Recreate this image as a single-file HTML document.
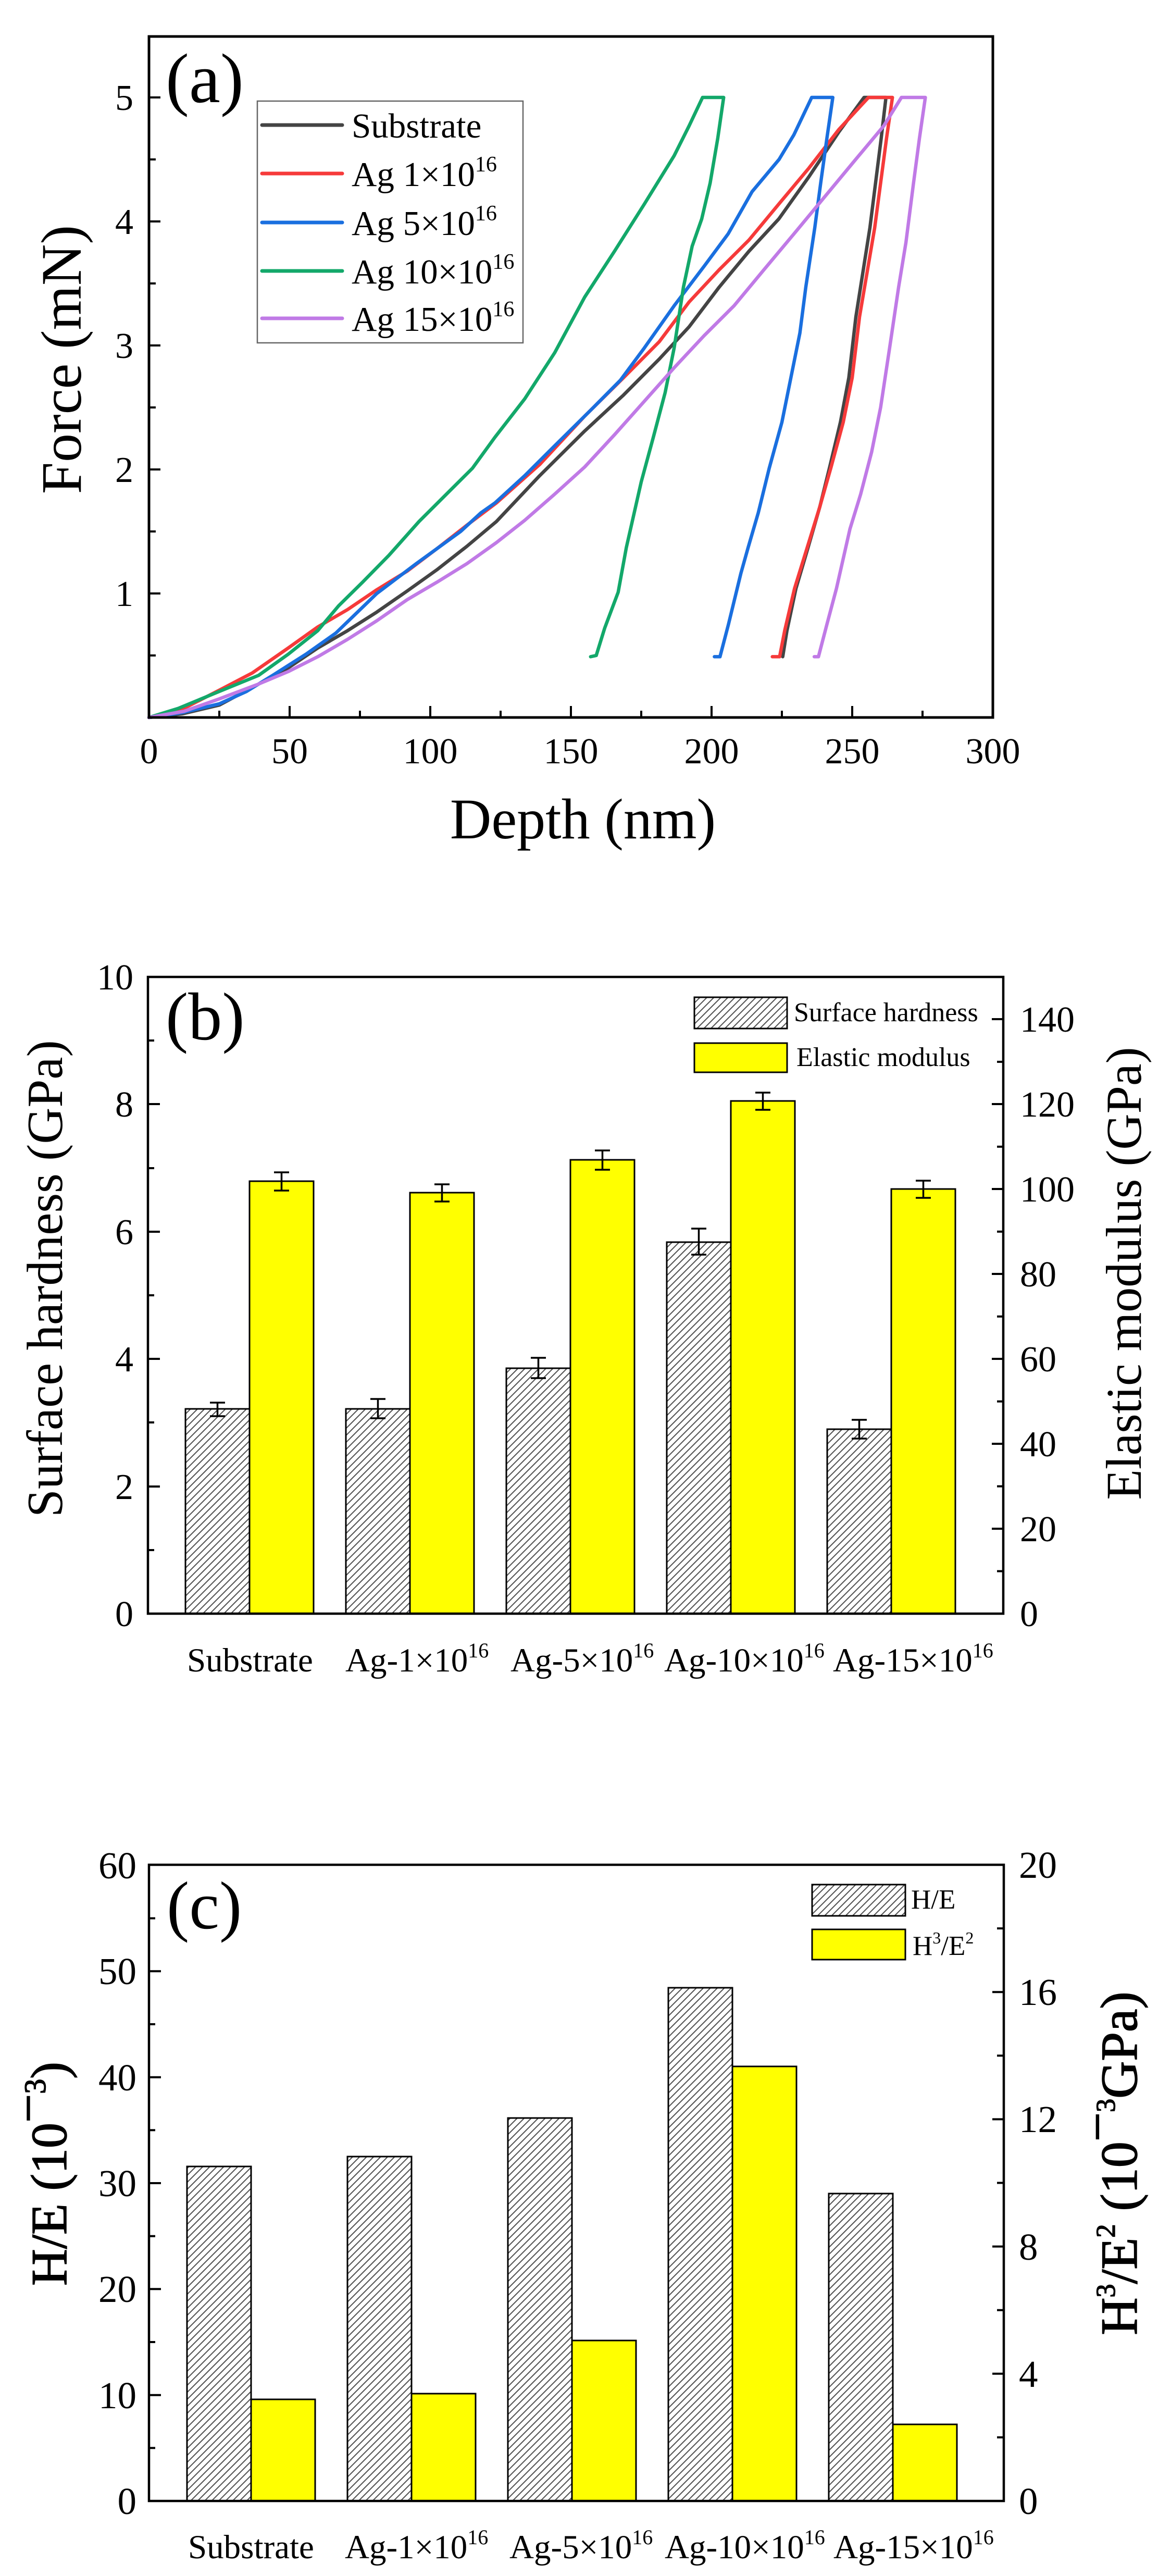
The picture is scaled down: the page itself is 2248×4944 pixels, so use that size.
<!DOCTYPE html>
<html>
<head>
<meta charset="utf-8">
<style>
  html,body{margin:0;padding:0;background:#fff;}
  svg{display:block;}
  text{font-family:"Liberation Serif","Times New Roman",serif;fill:#000;}
</style>
</head>
<body>
<svg xmlns="http://www.w3.org/2000/svg" width="2248" height="4944" viewBox="0 0 2248 4944">
<defs>
  <pattern id="hatch" patternUnits="userSpaceOnUse" width="9.5" height="10" patternTransform="rotate(45)">
    <rect width="10" height="10" fill="#fff"/>
    <line x1="4.75" y1="-1" x2="4.75" y2="11" stroke="#444" stroke-width="1.9"/>
  </pattern>
</defs>
<rect width="2248" height="4944" fill="#fff"/>

<!-- ================= PANEL A ================= -->
<g id="panelA">
  <g transform="translate(286,1377) scale(5.4,-238)" fill="none" stroke-width="6.5" stroke-linejoin="round" stroke-linecap="round">
    <polyline vector-effect="non-scaling-stroke" stroke="#444444" points="0,0 12,0.03 25,0.1 39,0.27 49.5,0.4 60,0.56 70.6,0.7 81,0.85 91.8,1.02 102.3,1.19 113,1.38 123.5,1.58 138.9,1.95 154.9,2.31 168.7,2.6 181.4,2.89 192,3.15 202.7,3.47 213.3,3.76 223.9,4.02 234.6,4.36 245.2,4.72 254.2,5 262,5 260.3,4.67 258.3,4.31 256.3,3.95 253.8,3.59 251.3,3.23 248.8,2.74 245.8,2.38 242,2.02 238.5,1.7 234.3,1.37 230,1.04 226.8,0.7 225.3,0.49"/>
    <polyline vector-effect="non-scaling-stroke" stroke="#f63a3a" points="0,0 10.4,0.05 25,0.22 36.8,0.36 49.5,0.56 60,0.73 70.6,0.87 81,1.03 91.8,1.18 102.3,1.36 113,1.55 123.5,1.73 138.9,2.04 154.9,2.43 168.7,2.74 181.4,3.03 192,3.35 202.7,3.61 213.3,3.85 223.9,4.14 234.6,4.43 245.2,4.74 255.8,5 264.3,5 262.2,4.67 260.1,4.31 258,3.95 255.3,3.59 252.6,3.23 250,2.74 246.8,2.38 242.5,2.02 238.5,1.7 234,1.37 229.5,1.04 226,0.7 224.2,0.49 221.6,0.49"/>
    <polyline vector-effect="non-scaling-stroke" stroke="#1a6fdf" points="0,0 12,0.04 25,0.11 34.7,0.21 44,0.34 55.8,0.51 66.4,0.68 81,1 95,1.24 110.8,1.5 118,1.65 123,1.73 133.6,1.95 144.2,2.19 158,2.5 167.6,2.72 176.1,2.98 186.7,3.32 197.4,3.64 205.9,3.9 214.4,4.24 224,4.5 229.3,4.7 235.6,5 243.1,5 241,4.67 238.8,4.31 236.7,3.95 233.5,3.47 231.4,3.1 228.2,2.74 225,2.38 220.5,2.01 216.6,1.65 213,1.37 210.4,1.16 206,0.75 203,0.49 201,0.49"/>
    <polyline vector-effect="non-scaling-stroke" stroke="#13a86a" points="0,0 10.4,0.073 25,0.21 39,0.34 49.5,0.51 60,0.7 67.4,0.9 75.9,1.09 85.4,1.31 96,1.58 106.6,1.82 115,2.01 123,2.26 133.6,2.57 144.2,2.94 154.9,3.39 165.5,3.76 176.1,4.14 186.7,4.53 192,4.77 196.8,5 204.3,5 202.2,4.67 199.5,4.31 196.5,4.02 193.1,3.8 190,3.47 186.7,2.98 183.5,2.62 179.3,2.26 175,1.9 169.7,1.37 166.8,1.01 162,0.72 159,0.5 157,0.49"/>
    <polyline vector-effect="non-scaling-stroke" stroke="#c07ae6" points="0,0 12.5,0.05 25,0.15 39,0.27 49.5,0.37 60,0.49 70.6,0.63 81,0.78 91.8,0.95 102.3,1.09 113,1.24 123.5,1.41 133.6,1.59 144.2,1.8 154.9,2.02 165.5,2.28 176.1,2.55 186.7,2.82 197.4,3.08 208,3.32 218.6,3.61 229.3,3.9 239.9,4.19 250.5,4.48 261.2,4.77 267.5,5 276,5 273.9,4.67 271.8,4.31 269.1,3.83 266.5,3.47 263.3,2.98 260.1,2.5 256.9,2.14 253,1.8 249.2,1.52 244.4,1.04 241,0.75 238,0.49 236.5,0.49"/>
  </g>
  <rect x="286" y="70" width="1620" height="1307" fill="none" stroke="#000" stroke-width="5"/>
  <g stroke="#000" stroke-width="4">
    <line x1="421" y1="1377" x2="421" y2="1364"/>
    <line x1="556" y1="1377" x2="556" y2="1355"/>
    <line x1="691" y1="1377" x2="691" y2="1364"/>
    <line x1="826" y1="1377" x2="826" y2="1355"/>
    <line x1="961" y1="1377" x2="961" y2="1364"/>
    <line x1="1096" y1="1377" x2="1096" y2="1355"/>
    <line x1="1231" y1="1377" x2="1231" y2="1364"/>
    <line x1="1366" y1="1377" x2="1366" y2="1355"/>
    <line x1="1501" y1="1377" x2="1501" y2="1364"/>
    <line x1="1636" y1="1377" x2="1636" y2="1355"/>
    <line x1="1771" y1="1377" x2="1771" y2="1364"/>
    <line x1="286" y1="1258" x2="299" y2="1258"/>
    <line x1="286" y1="1139" x2="308" y2="1139"/>
    <line x1="286" y1="1020" x2="299" y2="1020"/>
    <line x1="286" y1="901" x2="308" y2="901"/>
    <line x1="286" y1="782" x2="299" y2="782"/>
    <line x1="286" y1="663" x2="308" y2="663"/>
    <line x1="286" y1="544" x2="299" y2="544"/>
    <line x1="286" y1="425" x2="308" y2="425"/>
    <line x1="286" y1="306" x2="299" y2="306"/>
    <line x1="286" y1="187" x2="308" y2="187"/>
  </g>
  <g font-size="70" text-anchor="middle">
    <text x="286" y="1465">0</text>
    <text x="556" y="1465">50</text>
    <text x="826" y="1465">100</text>
    <text x="1096" y="1465">150</text>
    <text x="1366" y="1465">200</text>
    <text x="1636" y="1465">250</text>
    <text x="1906" y="1465">300</text>
  </g>
  <g font-size="70" text-anchor="end">
    <text x="256" y="1163">1</text>
    <text x="256" y="925">2</text>
    <text x="256" y="687">3</text>
    <text x="256" y="449">4</text>
    <text x="256" y="211">5</text>
  </g>
  <text x="1119" y="1609" font-size="110" text-anchor="middle">Depth (nm)</text>
  <text transform="translate(155,690) rotate(-90)" font-size="110" text-anchor="middle">Force (mN)</text>
  <text x="318" y="196" font-size="135">(a)</text>
  <rect x="494" y="194" width="510" height="464" fill="#fff" stroke="#666" stroke-width="2.5"/>
  <g stroke-width="7" stroke-linecap="round">
    <line x1="503" y1="240" x2="657" y2="240" stroke="#444444"/>
    <line x1="503" y1="333" x2="657" y2="333" stroke="#f63a3a"/>
    <line x1="503" y1="427" x2="657" y2="427" stroke="#1a6fdf"/>
    <line x1="503" y1="520" x2="657" y2="520" stroke="#13a86a"/>
    <line x1="503" y1="611" x2="657" y2="611" stroke="#c07ae6"/>
  </g>
  <g font-size="67">
    <text x="675" y="264">Substrate</text>
    <text x="675" y="357">Ag 1×10<tspan dy="-28" font-size="42">16</tspan></text>
    <text x="675" y="451">Ag 5×10<tspan dy="-28" font-size="42">16</tspan></text>
    <text x="675" y="544">Ag 10×10<tspan dy="-28" font-size="42">16</tspan></text>
    <text x="675" y="635">Ag 15×10<tspan dy="-28" font-size="42">16</tspan></text>
  </g>
</g>

<!-- ================= PANEL B ================= -->
<g id="panelB">
  <g stroke="#000" stroke-width="3">
    <rect x="356" y="2704" width="123" height="393" fill="url(#hatch)"/>
    <rect x="479" y="2267" width="123" height="830" fill="#ffff00"/>
    <rect x="664" y="2704" width="123" height="393" fill="url(#hatch)"/>
    <rect x="787" y="2289" width="123" height="808" fill="#ffff00"/>
    <rect x="972" y="2626" width="123" height="471" fill="url(#hatch)"/>
    <rect x="1095" y="2226" width="123" height="871" fill="#ffff00"/>
    <rect x="1280" y="2384" width="123" height="713" fill="url(#hatch)"/>
    <rect x="1403" y="2113" width="123" height="984" fill="#ffff00"/>
    <rect x="1588" y="2743" width="123" height="354" fill="url(#hatch)"/>
    <rect x="1711" y="2282" width="123" height="815" fill="#ffff00"/>
  </g>
  <g stroke="#000" stroke-width="3.5" fill="none">
    <path d="M417.5 2692V2718M403 2692H432M403 2718H432"/>
    <path d="M540.5 2250V2285M526 2250H555M526 2285H555"/>
    <path d="M725.5 2685V2722M711 2685H740M711 2722H740"/>
    <path d="M848.5 2273V2306M834 2273H863M834 2306H863"/>
    <path d="M1033.5 2606V2645M1019 2606H1048M1019 2645H1048"/>
    <path d="M1156.5 2208V2245M1142 2208H1171M1142 2245H1171"/>
    <path d="M1341.5 2358V2408M1327 2358H1356M1327 2408H1356"/>
    <path d="M1464.5 2097V2130M1450 2097H1479M1450 2130H1479"/>
    <path d="M1649.5 2725V2761M1635 2725H1664M1635 2761H1664"/>
    <path d="M1772.5 2266V2299M1758 2266H1787M1758 2299H1787"/>
  </g>
  <rect x="284" y="1875" width="1642" height="1222" fill="none" stroke="#000" stroke-width="4.5"/>
  <g stroke="#000" stroke-width="4">
    <line x1="284" y1="2975" x2="296" y2="2975"/>
    <line x1="284" y1="2853" x2="307" y2="2853"/>
    <line x1="284" y1="2730" x2="296" y2="2730"/>
    <line x1="284" y1="2608" x2="307" y2="2608"/>
    <line x1="284" y1="2486" x2="296" y2="2486"/>
    <line x1="284" y1="2364" x2="307" y2="2364"/>
    <line x1="284" y1="2242" x2="296" y2="2242"/>
    <line x1="284" y1="2119" x2="307" y2="2119"/>
    <line x1="284" y1="1997" x2="296" y2="1997"/>
    <line x1="1926" y1="3015.5" x2="1914" y2="3015.5"/>
    <line x1="1926" y1="2934" x2="1904" y2="2934"/>
    <line x1="1926" y1="2852.6" x2="1914" y2="2852.6"/>
    <line x1="1926" y1="2771" x2="1904" y2="2771"/>
    <line x1="1926" y1="2689.7" x2="1914" y2="2689.7"/>
    <line x1="1926" y1="2608" x2="1904" y2="2608"/>
    <line x1="1926" y1="2526.7" x2="1914" y2="2526.7"/>
    <line x1="1926" y1="2445" x2="1904" y2="2445"/>
    <line x1="1926" y1="2363.8" x2="1914" y2="2363.8"/>
    <line x1="1926" y1="2282" x2="1904" y2="2282"/>
    <line x1="1926" y1="2200.8" x2="1914" y2="2200.8"/>
    <line x1="1926" y1="2119" x2="1904" y2="2119"/>
    <line x1="1926" y1="2037.9" x2="1914" y2="2037.9"/>
    <line x1="1926" y1="1956" x2="1904" y2="1956"/>
  </g>
  <g font-size="70" text-anchor="end">
    <text x="256" y="3121">0</text>
    <text x="256" y="2877">2</text>
    <text x="256" y="2632">4</text>
    <text x="256" y="2388">6</text>
    <text x="256" y="2143">8</text>
    <text x="256" y="1899">10</text>
  </g>
  <g font-size="70">
    <text x="1958" y="3121">0</text>
    <text x="1958" y="2958">20</text>
    <text x="1958" y="2795">40</text>
    <text x="1958" y="2632">60</text>
    <text x="1958" y="2469">80</text>
    <text x="1958" y="2306">100</text>
    <text x="1958" y="2143">120</text>
    <text x="1958" y="1980">140</text>
  </g>
  <g font-size="65">
    <text x="359" y="3208">Substrate</text>
    <text x="663" y="3208">Ag-1×10<tspan dy="-27" font-size="40">16</tspan></text>
    <text x="980" y="3208">Ag-5×10<tspan dy="-27" font-size="40">16</tspan></text>
    <text x="1275" y="3208">Ag-10×10<tspan dy="-27" font-size="40">16</tspan></text>
    <text x="1599" y="3208">Ag-15×10<tspan dy="-27" font-size="40">16</tspan></text>
  </g>
  <text transform="translate(119,2912) rotate(-90)" font-size="97">Surface hardness (GPa)</text>
  <text transform="translate(2190,2444) rotate(-90)" font-size="96" text-anchor="middle">Elastic modulus (GPa)</text>
  <text x="318" y="1995" font-size="130">(b)</text>
  <rect x="1333" y="1914" width="178" height="60" fill="url(#hatch)" stroke="#000" stroke-width="3"/>
  <rect x="1333" y="2002" width="178" height="56" fill="#ffff00" stroke="#000" stroke-width="3"/>
  <text x="1524" y="1960" font-size="52">Surface hardness</text>
  <text x="1529" y="2046" font-size="52">Elastic modulus</text>
</g>

<!-- ================= PANEL C ================= -->
<g id="panelC">
  <g stroke="#000" stroke-width="3">
    <rect x="359" y="4158" width="123" height="642" fill="url(#hatch)"/>
    <rect x="482" y="4605" width="123" height="195" fill="#ffff00"/>
    <rect x="667" y="4139" width="123" height="661" fill="url(#hatch)"/>
    <rect x="790" y="4594" width="123" height="206" fill="#ffff00"/>
    <rect x="975" y="4065" width="123" height="735" fill="url(#hatch)"/>
    <rect x="1098" y="4492" width="123" height="308" fill="#ffff00"/>
    <rect x="1283" y="3815" width="123" height="985" fill="url(#hatch)"/>
    <rect x="1406" y="3966" width="123" height="834" fill="#ffff00"/>
    <rect x="1591" y="4210" width="123" height="590" fill="url(#hatch)"/>
    <rect x="1714" y="4653" width="123" height="147" fill="#ffff00"/>
  </g>
  <rect x="286" y="3579" width="1641" height="1221" fill="none" stroke="#000" stroke-width="4.5"/>
  <g stroke="#000" stroke-width="4">
    <line x1="286" y1="4698.3" x2="298" y2="4698.3"/>
    <line x1="286" y1="4596.7" x2="309" y2="4596.7"/>
    <line x1="286" y1="4495" x2="298" y2="4495"/>
    <line x1="286" y1="4393.3" x2="309" y2="4393.3"/>
    <line x1="286" y1="4291.7" x2="298" y2="4291.7"/>
    <line x1="286" y1="4190" x2="309" y2="4190"/>
    <line x1="286" y1="4088.3" x2="298" y2="4088.3"/>
    <line x1="286" y1="3986.7" x2="309" y2="3986.7"/>
    <line x1="286" y1="3885" x2="298" y2="3885"/>
    <line x1="286" y1="3783.3" x2="309" y2="3783.3"/>
    <line x1="286" y1="3681.7" x2="298" y2="3681.7"/>
    <line x1="1927" y1="4677.9" x2="1914" y2="4677.9"/>
    <line x1="1927" y1="4555.8" x2="1905" y2="4555.8"/>
    <line x1="1927" y1="4433.7" x2="1914" y2="4433.7"/>
    <line x1="1927" y1="4311.6" x2="1905" y2="4311.6"/>
    <line x1="1927" y1="4189.5" x2="1914" y2="4189.5"/>
    <line x1="1927" y1="4067.4" x2="1905" y2="4067.4"/>
    <line x1="1927" y1="3945.3" x2="1914" y2="3945.3"/>
    <line x1="1927" y1="3823.2" x2="1905" y2="3823.2"/>
    <line x1="1927" y1="3701.1" x2="1914" y2="3701.1"/>
  </g>
  <g font-size="73" text-anchor="end">
    <text x="262" y="4825">0</text>
    <text x="262" y="4622">10</text>
    <text x="262" y="4418">20</text>
    <text x="262" y="4215">30</text>
    <text x="262" y="4012">40</text>
    <text x="262" y="3808">50</text>
    <text x="262" y="3605">60</text>
  </g>
  <g font-size="73">
    <text x="1956" y="4825">0</text>
    <text x="1956" y="4581">4</text>
    <text x="1956" y="4337">8</text>
    <text x="1956" y="4092">12</text>
    <text x="1956" y="3848">16</text>
    <text x="1956" y="3604">20</text>
  </g>
  <g font-size="65">
    <text x="361" y="4910">Substrate</text>
    <text x="662" y="4910">Ag-1×10<tspan dy="-27" font-size="40">16</tspan></text>
    <text x="978" y="4910">Ag-5×10<tspan dy="-27" font-size="40">16</tspan></text>
    <text x="1276" y="4910">Ag-10×10<tspan dy="-27" font-size="40">16</tspan></text>
    <text x="1600" y="4910">Ag-15×10<tspan dy="-27" font-size="40">16</tspan></text>
  </g>
  <text transform="translate(127,4172) rotate(-90)" font-size="98" text-anchor="middle" stroke="#000" stroke-width="1.5">H/E (10<tspan dy="-40" font-size="98">−</tspan><tspan font-size="58">3</tspan><tspan dy="40">)</tspan></text>
  <text transform="translate(2182,4152) rotate(-90)" font-size="100" text-anchor="middle" stroke="#000" stroke-width="1.5">H<tspan dy="-42" font-size="52">3</tspan><tspan dy="42">/E</tspan><tspan dy="-42" font-size="52">2</tspan><tspan dy="42"> (10</tspan><tspan dy="-42">−</tspan><tspan font-size="52">3</tspan><tspan dy="42">GPa)</tspan></text>
  <text x="320" y="3701" font-size="130">(c)</text>
  <rect x="1559" y="3617" width="179" height="60" fill="url(#hatch)" stroke="#000" stroke-width="3"/>
  <rect x="1559" y="3703" width="179" height="58" fill="#ffff00" stroke="#000" stroke-width="3"/>
  <text x="1749" y="3663" font-size="53">H/E</text>
  <text x="1752" y="3752" font-size="53">H<tspan dy="-22" font-size="32">3</tspan><tspan dy="22">/E</tspan><tspan dy="-22" font-size="32">2</tspan></text>
</g>
</svg>
</body>
</html>
